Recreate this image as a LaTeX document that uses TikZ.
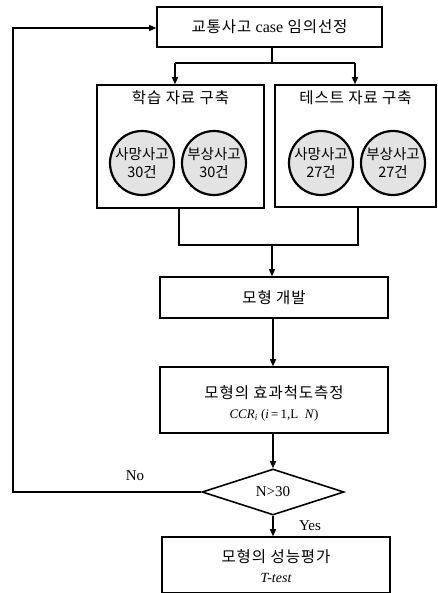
\documentclass[tikz,border=0pt]{standalone}
\usepackage{fontspec}
\setmainfont{Liberation Serif}
\newfontfamily\kr[LetterSpace=6]{Noto Sans CJK KR}
\newfontfamily\krc{Noto Sans CJK KR}
\usetikzlibrary{shapes.geometric,arrows.meta}
\begin{document}
\begin{tikzpicture}[x=1pt,y=-1pt,
  box/.style={draw,line width=1.6pt,rectangle,inner sep=0pt,font=\kr\fontsize{15.5}{18}\selectfont,align=center},
  bigbox/.style={draw,line width=1.6pt,rectangle,inner sep=0pt},
  ktext/.style={font=\kr\fontsize{15.5}{18}\selectfont},
  circ/.style={draw,line width=2.2pt,circle,fill=gray!22,minimum size=64pt,inner sep=0pt,align=center,font=\krc\fontsize{14.5}{18}\selectfont},
  dec/.style={draw,line width=1.6pt,diamond,minimum width=142pt,minimum height=46pt,inner sep=0pt,font=\fontsize{15}{17}\selectfont},
  conn/.style={line width=1.3pt},
  arr/.style={line width=1.3pt,-{Triangle[length=7pt,width=6pt]}},
  lab/.style={font=\fontsize{15}{17}\selectfont}
]
\useasboundingbox (0,0) rectangle (438,593);
\fill[white] (0,0) rectangle (438,593);

% top box
\node[box,minimum width=225pt,minimum height=40pt] (top) at (269.5,27) {교통사고 {\rmfamily\fontsize{16}{18}\selectfont case} 임의선정};

% data boxes
\node[bigbox,minimum width=167pt,minimum height=123pt] (learn) at (180.5,146.5) {};
\node[bigbox,minimum width=161pt,minimum height=122pt] (test) at (355.5,146) {};
\node[ktext] (learnt) at (180.5,98) {학습 자료 구축};
\node[ktext] (testt) at (355.5,98) {테스트 자료 구축};

\node[circ] (c1) at (142,163) {사망사고\\30건};
\node[circ] (c2) at (214,163) {부상사고\\30건};
\node[circ] (c3) at (321,163) {사망사고\\27건};
\node[circ] (c4) at (393,163) {부상사고\\27건};

% split
\coordinate (s0) at (272,63);
\coordinate (sl) at (175,63);
\coordinate (sr) at (355,63);
\draw[conn] (top.south -| s0) -- (s0);
\draw[conn] (sl) -- (sr);
\draw[arr] (sl) -- (sl |- learn.north);
\draw[arr] (sr) -- (sr |- test.north);

% merge
\coordinate (ml) at (179,245);
\coordinate (mr) at (358,245);
\coordinate (mc) at (272,245);
\draw[conn] (ml |- learn.south) -- (ml) -- (mr) -- (mr |- test.south);

% model box
\node[box,minimum width=228pt,minimum height=41pt] (model) at (274,297.5) {모형 개발};
\draw[arr] (mc) -- (mc |- model.north);

% measure box
\node[bigbox,minimum width=228pt,minimum height=66pt] (meas) at (274,400) {};
\node[ktext] (meast) at (274,393) {모형의 효과척도측정};
\node[font=\fontsize{13}{15}\selectfont] (measm) at (274,415) {\textit{CCR}\textsubscript{\textit{i}}\ (\textit{i}\,=\,1,L\ \ \textit{N})};
\draw[arr] (model.south -| 273,0) -- (meas.north -| 273,0);

% decision
\node[dec] (dec) at (273,492) {N>30};
\draw[arr] (meas.south -| 273,0) -- (dec.north);

% final box
\node[bigbox,minimum width=228pt,minimum height=56pt] (final) at (276,565) {};
\node[ktext] (finalt) at (276,557) {모형의 성능평가};
\node[font=\fontsize{14}{16}\selectfont\itshape] (finalm) at (276,578) {T-test};
\draw[arr] (dec.south) -- (final.north -| dec.south);

% labels
\node[lab] (no) at (135,476) {No};
\node[lab] (yes) at (310,526) {Yes};

% feedback
\coordinate (f1) at (13,492);
\coordinate (f2) at (13,28);
\draw[arr] (dec.west) -- (f1) -- (f2) -- (f2 -| top.west);
\end{tikzpicture}
\end{document}
